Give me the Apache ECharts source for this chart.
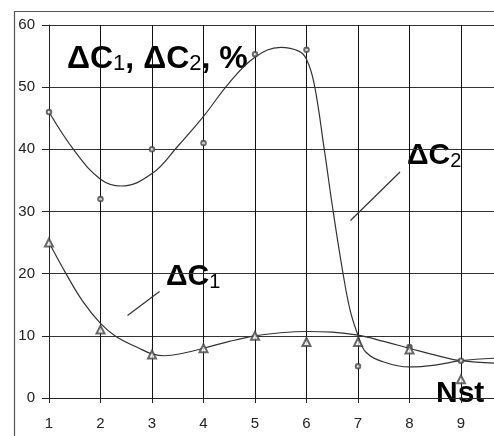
<!DOCTYPE html>
<html>
<head>
<meta charset="utf-8">
<script src="https://cdn.jsdelivr.net/npm/echarts@6/dist/echarts.min.js"></script>
<style>
  html, body { margin: 0; padding: 0; background: #fff; }
  #chart { width: 494px; height: 436px; }
</style>
</head>
<body>
<div id="chart"></div>
<script>
// measured points (Nst = 1..9)
var nst = [1, 2, 3, 4, 5, 6, 7, 8, 9];
var dc1Points = [25, 11, 7, 8, 10, 9, 9, 7.8, 3];
var dc2Points = [46, 32, 40, 41, 55.3, 56, 5.1, 8.2, 6];

// fitted curves
var dc1CurveX = [1, 1.33, 1.66, 2, 2.3, 2.75, 3, 3.25, 3.6, 4, 4.5, 5, 5.5, 6, 6.5, 7, 7.5, 8, 8.5, 9, 9.65];
var dc1CurveY = [25, 20, 15.5, 12, 9.9, 8, 7.1, 6.8, 7.2, 8, 9.1, 10, 10.5, 10.7, 10.6, 10.1, 9.1, 8, 6.9, 6, 5.6];
var dc2CurveX = [1, 1.5, 2, 2.4, 3, 3.5, 4, 4.5, 5, 5.5, 5.85, 6, 6.15, 6.35, 6.5, 6.7, 6.85, 7, 7.15, 7.5, 8, 8.5, 9, 9.65];
var dc2CurveY = [46, 39.7, 35.2, 34.1, 36.1, 40.5, 45.3, 50.7, 54.8, 56.4, 55.8, 54.5, 50.5, 39.7, 31, 20.5, 14, 10.1, 7.4, 5.8, 5, 5.3, 6, 6.4];

var yTicks = [0, 10, 20, 30, 40, 50, 60];

function pairs(xa, ya) {
    var out = [];
    for (var i = 0; i < xa.length; i++) out.push([xa[i], ya[i]]);
    return out;
}

var chart = echarts.init(document.getElementById('chart'));
var font = 'Liberation Sans, Arial, sans-serif';
var big = { fontSize: 30, fontWeight: 'bold', fontFamily: font, lineHeight: 36, verticalAlign: 'bottom', color: '#000' };
var sub = { fontSize: 20, fontWeight: 'normal', fontFamily: font, lineHeight: 22, verticalAlign: 'bottom', color: '#000' };
var bigT = { fontSize: 32, fontWeight: 'bold', fontFamily: font, lineHeight: 38, verticalAlign: 'bottom', color: '#000' };
var subT = { fontSize: 22, fontWeight: 'normal', fontFamily: font, lineHeight: 24, verticalAlign: 'bottom', color: '#000' };

var option = {
    animation: false,
    backgroundColor: '#fff',
    grid: { left: 49, top: 25, right: -18.5, bottom: 38, containLabel: false, outerBoundsMode: 'none' },
    xAxis: {
        type: 'value', min: 1, max: 10, interval: 1,
        axisLine: { show: true, onZero: false, lineStyle: { color: '#222', width: 1 } },
        axisTick: { show: true, length: 5, lineStyle: { color: '#222' } },
        splitLine: { show: true, lineStyle: { color: '#111', width: 1 } },
        axisLabel: {
            margin: 18, fontSize: 15, fontFamily: font, color: '#222',
            formatter: function (v) { return v <= 9 ? String(v) : ''; }
        }
    },
    yAxis: {
        type: 'value', min: yTicks[0], max: yTicks[yTicks.length - 1], interval: 10,
        axisLine: { show: true, lineStyle: { color: '#222', width: 1 } },
        axisTick: { show: true, length: 7, lineStyle: { color: '#222' } },
        splitLine: { show: true, lineStyle: { color: '#333', width: 1 } },
        axisLabel: { margin: 14, fontSize: 15, fontFamily: font, color: '#222' }
    },
    series: [
        {
            type: 'line', data: pairs(dc2CurveX, dc2CurveY), smooth: 0.4,
            showSymbol: false, lineStyle: { color: '#333', width: 1.2 }, z: 3
        },
        {
            type: 'line', data: pairs(dc1CurveX, dc1CurveY), smooth: 0.4,
            showSymbol: false, lineStyle: { color: '#333', width: 1.2 }, z: 3
        },
        {
            type: 'scatter', data: pairs(nst, dc2Points), symbol: 'emptyCircle', symbolSize: 4.5,
            itemStyle: { color: '#444', borderColor: '#444', borderWidth: 1 }, z: 4
        },
        {
            type: 'scatter', data: pairs(nst, dc1Points), symbol: 'emptyTriangle', symbolSize: 8,
            itemStyle: { color: '#444', borderColor: '#444', borderWidth: 1 }, z: 4
        }
    ],
    graphic: [
        { type: 'rect', z: -10, shape: { x: 14.5, y: 11.5, width: 520, height: 460 },
          style: { fill: 'none', stroke: '#555', lineWidth: 1.2 } },
        { type: 'text', z: -5, x: 67, y: 75, style: {
            text: '{m|ΔC}{s|1}{m|, ΔC}{s|2}{m|, %}', verticalAlign: 'bottom',
            rich: { m: bigT, s: subT } } },
        { type: 'text', z: -5, x: 407, y: 171, style: {
            text: '{m|ΔC}{s|2}', verticalAlign: 'bottom', rich: { m: big, s: sub } } },
        { type: 'text', z: -5, x: 166, y: 292, style: {
            text: '{m|ΔC}{s|1}', verticalAlign: 'bottom', rich: { m: big, s: sub } } },
        { type: 'text', z: -5, x: 436, y: 409, style: {
            text: '{m|Nst}', verticalAlign: 'bottom', rich: { m: big } } },
        { type: 'line', z: 5, shape: { x1: 400, y1: 172, x2: 350.5, y2: 220.5 },
          style: { stroke: '#333', lineWidth: 1.2 } },
        { type: 'line', z: 5, shape: { x1: 159.5, y1: 291.5, x2: 127.5, y2: 315.5 },
          style: { stroke: '#333', lineWidth: 1.2 } }
    ]
};
chart.setOption(option);
</script>
</body>
</html>
